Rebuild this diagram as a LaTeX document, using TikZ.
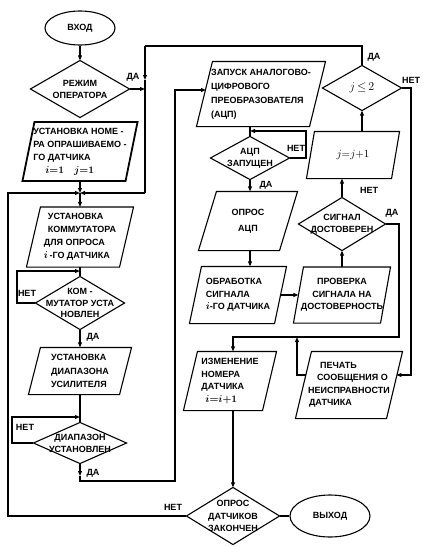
\documentclass[tikz,border=0pt]{standalone}
\usepackage{fontspec}
\setmainfont{Liberation Sans}
\usetikzlibrary{arrows.meta,calc,shapes.geometric}
\tikzset{
  txt/.style={font=\fontsize{9}{#1}\selectfont\bfseries, inner sep=0pt},
  txt/.default=13,
  pbox/.style={txt=#1, align=left},
  pbox/.default=13,
  cbox/.style={txt=#1, align=center},
  cbox/.default=12.5,
  lbl/.style={font=\fontsize{9}{10}\selectfont\bfseries, inner sep=0pt},
  term/.style={draw, ellipse, txt, minimum width=#1},
  arr/.style={-{Triangle[length=5pt,width=3.8pt]}},
  line/.style={line width=1.1pt},
}
\newcommand{\pgm}[2]{\draw[line] ([xshift=#2pt]#1.north west) -- ([xshift=#2pt]#1.north east) -- ([xshift=-#2pt]#1.south east) -- ([xshift=-#2pt]#1.south west) -- cycle;}
\newcommand{\dmd}[1]{\draw[line] (#1.north) -- (#1.east) -- (#1.south) -- (#1.west) -- cycle;}
\newcommand{\bmath}[1]{{\boldmath\fontsize{10}{13}\selectfont$#1$}}
\begin{document}
\begin{tikzpicture}[x=1pt,y=-1pt,line width=1.1pt]
\fill[white] (0,0) rectangle (424,547);
\useasboundingbox (0,0) rectangle (424,547);

% ---------- left column ----------
\node[term=70pt, minimum height=34pt] (vhod) at (80,28) {ВХОД};
\node[cbox=12, minimum width=98pt, minimum height=56pt] (rz) at (80,89) {РЕЖИМ\\ОПЕРАТОРА};
\node[pbox, minimum width=102pt, minimum height=58pt] (bnum) at (80,151.5)
  {УСТАНОВКА НОМЕ~-\\РА ОПРАШИВАЕМО~-\\ГО ДАТЧИКА\\\kern12pt\bmath{i{=}1}\kern10pt\bmath{j{=}1}};
\node[pbox, minimum width=92pt, minimum height=59pt] (b2) at (80,237)
  {\kern4pt УСТАНОВКА\\\kern4pt КОММУТАТОРА\\ДЛЯ ОПРОСА\\\bmath{i}\,-ГО ДАТЧИКА};
\node[cbox=11.5, minimum width=88pt, minimum height=52pt] (d2) at (80,303) {КОМ -\\МУТАТОР УСТА\\НОВЛЕН};
\node[pbox=13.5, minimum width=90pt, minimum height=46pt] (b3) at (80,371)
  {УСТАНОВКА\\ДИАПАЗОНА\\УСИЛИТЕЛЯ};
\node[cbox=12, minimum width=92pt, minimum height=40pt] (d3) at (80,443) {ДИАПАЗОН\\УСТАНОВЛЕН};

% ---------- middle column ----------
\node[pbox=14, minimum width=112pt, minimum height=64pt] (zap) at (261,94)
  {ЗАПУСК АНАЛОГОВО-\\ЦИФРОВОГО\\ПРЕОБРАЗОВАТЕЛЯ\\(АЦП)};
\node[cbox=12, minimum width=78pt, minimum height=42pt] (acpq) at (250,158) {АЦП\\ЗАПУЩЕН};
\node[cbox=16, minimum width=80pt, minimum height=58pt] (opros) at (248,221) {ОПРОС\\АЦП};
\node[pbox=12.5, minimum width=84pt, minimum height=56pt] (obr) at (238,295)
  {ОБРАБОТКА\\СИГНАЛА\\\bmath{i}-ГО ДАТЧИКА};
\node[cbox=12.5, minimum width=86pt, minimum height=55pt] (prov) at (342,295)
  {ПРОВЕРКА\\СИГНАЛА НА\\ДОСТОВЕРНОСТЬ};
\node[cbox=12.5, minimum width=86pt, minimum height=52pt] (sig) at (342,224) {СИГНАЛ\\ДОСТОВЕРЕН};
\node[txt, font=\fontsize{11}{14}\selectfont, minimum width=84pt, minimum height=46pt] (jb) at (353,155) {$j{=}j{+}1$};
\node[txt, font=\fontsize{12}{14}\selectfont, minimum width=78pt, minimum height=44pt] (j2) at (362,88) {$j\,{\leq}\,2$};
\node[pbox=12.5, minimum width=90pt, minimum height=66pt] (pech) at (349,385)
  {\kern12pt ПЕЧАТЬ\\\kern9pt СООБЩЕНИЯ О\\НЕИСПРАВНОСТИ\\\kern1pt ДАТЧИКА};
\node[pbox=12.5, minimum width=78pt, minimum height=58pt] (izm) at (230,381)
  {ИЗМЕНЕНИЕ\\НОМЕРА\\ДАТЧИКА\\\kern4pt\bmath{i{=}i{+}1}};
\node[cbox=12.5, minimum width=92pt, minimum height=56pt] (op) at (233,516) {ОПРОС\\ДАТЧИКОВ\\ЗАКОНЧЕН};
\node[term=80pt, minimum height=42pt] (vyh) at (330,516) {ВЫХОД};

% ---------- outlines ----------
\dmd{rz}
\draw[line width=1.8pt] ([xshift=6pt]bnum.north west) -- ([xshift=6pt]bnum.north east) -- ([xshift=-6pt]bnum.south east) -- ([xshift=-6pt]bnum.south west) -- cycle;
\pgm{b2}{7}
\dmd{d2}
\pgm{b3}{6}
\dmd{d3}
\pgm{zap}{8}
\dmd{acpq}
\pgm{opros}{9}
\pgm{obr}{6}
\pgm{prov}{5}
\dmd{sig}
\pgm{jb}{4}
\dmd{j2}
\pgm{pech}{8}
\pgm{izm}{7}
\dmd{op}

% ---------- coordinates ----------
\coordinate (J) at (80,193);
\coordinate (c145t) at (145,46);
\coordinate (c145m) at (145,80);
\coordinate (c145b) at (145,193);
\coordinate (c362t) at (362,46);
\coordinate (c145r) at (145,89);
\coordinate (K) at (80,271);
\coordinate (k1) at (17,303);
\coordinate (k2) at (17,271);
\coordinate (L) at (80,417);
\coordinate (l1) at (12,443);
\coordinate (l2) at (12,417);
\coordinate (M) at (80,476);
\coordinate (N) at (80,481);
\coordinate (N2) at (175,481);
\coordinate (N3) at (175,90);
\coordinate (zl) at (206,90);
\coordinate (P) at (250,131);
\coordinate (p1) at (306,158);
\coordinate (p2) at (306,131);
\coordinate (q1) at (411,88);
\coordinate (q2) at (411,375);
\coordinate (q3) at (396.4,375);
\coordinate (r1) at (399,224);
\coordinate (r2) at (399,337);
\coordinate (r3) at (233,337);
\coordinate (s1) at (306.4,375);
\coordinate (s2) at (297,375);
\coordinate (s3) at (297,337);
\coordinate (t1) at (8,516);
\coordinate (t2) at (8,193);

% ---------- connectors ----------
\draw[arr] (vhod.south) -- (rz.north);
\draw[arr] (rz.east) -- (c145r);
\draw (j2.north) -- (c362t) -- (c145t);
\draw[arr] (c145t) -- (c145m);
\draw (c145m) -- (c145b);
\draw[arr] (c145b) -- (J);
\draw[arr] (bnum.south) -- (J);
\draw[arr] (J) -- (b2.north);
\draw (b2.south) -- (d2.north);
\draw[arr] (d2.west) -- (k1) -- (k2) -- (K);
\draw[arr] (d2.south) -- (b3.north);
\draw (b3.south) -- (d3.north);
\draw[arr] (d3.west) -- (l1) -- (l2) -- (L);
\draw[arr] (d3.south) -- (M);
\draw[arr] (M) -- (N) -- (N2) -- (N3) -- (zl);

\draw (P |- zap.south) -- (acpq.north);
\draw[arr] (acpq.east) -- (p1) -- (p2) -- (P);
\draw[arr] (acpq.south) -- (acpq.south |- opros.north);
\draw[arr] (acpq.south |- opros.south) -- (acpq.south |- obr.north);
\draw[arr] (obr.east) -- (prov.west);
\draw[arr] (prov.north) -- (sig.south);
\draw[arr] (sig.north) -- (sig.north |- jb.south);
\draw[arr] (j2.south |- jb.north) -- (j2.south);
\draw[arr] (j2.east) -- (q1) -- (q2) -- (q3);
\draw[arr] (sig.east) -- (r1) -- (r2) -- (r3) -- (r3 |- izm.north);
\draw[arr] (s1) -- (s2) -- (s3);
\draw[arr] (izm.south -| op.north) -- (op.north);
\draw[arr] (op.west) -- (t1) -- (t2) -- (J);
\draw (op.east) -- (vyh.west);

% ---------- labels ----------
\node[lbl] (lda1) at (133,77) {ДА};
\node[lbl] (lnet2) at (27,293) {НЕТ};
\node[lbl, anchor=west] (lda2) at (86,337) {ДА};
\node[lbl] (lnet3) at (25,427) {НЕТ};
\node[lbl, anchor=west] (lda3) at (86,473) {ДА};
\node[lbl] (lnet4) at (296,148) {НЕТ};
\node[lbl, anchor=west] (lda4) at (259,185) {ДА};
\node[lbl] (lda5) at (374,57) {ДА};
\node[lbl] (lnet5) at (411,80) {НЕТ};
\node[lbl] (lnet6) at (369,190) {НЕТ};
\node[lbl] (lda6) at (392,213) {ДА};
\node[lbl] (lnet7) at (173,507) {НЕТ};
\end{tikzpicture}
\end{document}
